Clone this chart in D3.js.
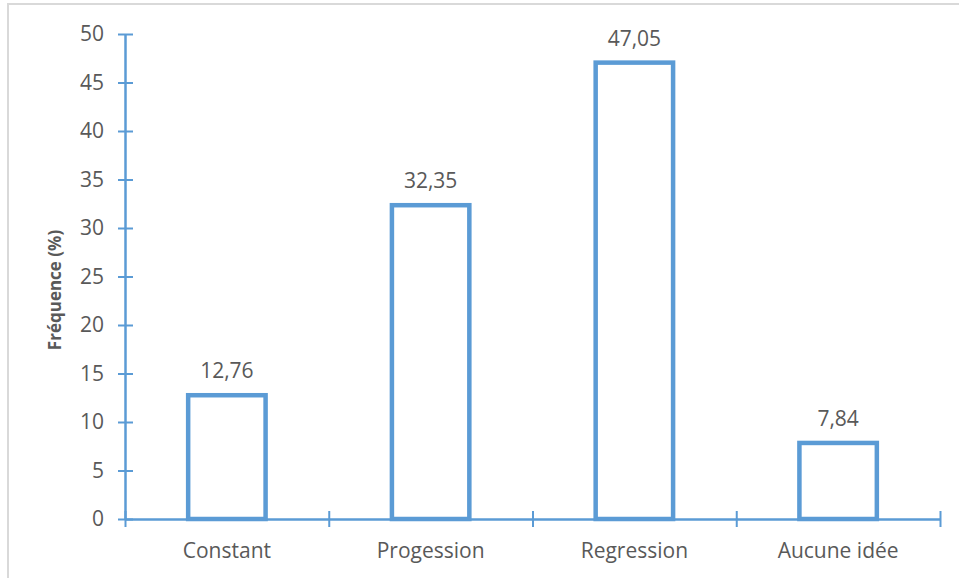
<!DOCTYPE html>
<html>
<head>
<meta charset="utf-8">
<script src="https://cdn.jsdelivr.net/npm/d3@7/dist/d3.min.js"></script>
<style>
  body { margin: 0; background: #fff; }
  svg { display: block; font-family: "Open Sans", sans-serif; }
  .tickText { fill: #595959; font-size: 21px; }
  .valueText { fill: #595959; font-size: 21px; }
  .axisTitle { fill: #595959; font-size: 17px; font-weight: bold; }
</style>
</head>
<body>
<svg id="chart" width="959" height="578"></svg>
<script>
var categories = ["Constant", "Progession", "Regression", "Aucune idée"]
var frequencies = [12.76, 32.35, 47.05, 7.84]
var valueLabels = ["12,76", "32,35", "47,05", "7,84"]
var yTicks = [0, 5, 10, 15, 20, 25, 30, 35, 40, 45, 50]

var blue = "#5b9bd5"
var svg = d3.select("#chart")

// light frame, cut on the right and bottom like the screenshot
svg.append("rect")
  .attr("x", 8).attr("y", 4)
  .attr("width", 1000).attr("height", 700)
  .attr("fill", "none")
  .attr("stroke", "#d9d9d9")
  .attr("stroke-width", 2)

var plotLeft = 125, plotRight = 940, plotTop = 34, plotBottom = 519

var y = d3.scaleLinear().domain([0, 50]).range([plotBottom, plotTop])
var x = d3.scaleBand().domain(categories).range([plotLeft, plotRight]).padding(0)
var xEdges = d3.scaleLinear().domain([0, categories.length]).range([plotLeft, plotRight])

// y axis
var yAxis = svg.append("g")
  .attr("transform", "translate(" + plotLeft + ",0)")
  .call(d3.axisLeft(y).tickValues(yTicks).tickSize(7).tickSizeOuter(0).tickPadding(14))
yAxis.select(".domain").attr("stroke", blue).attr("stroke-width", 2.5)
yAxis.selectAll(".tick line").attr("stroke", blue).attr("stroke-width", 2).attr("x1", 8)
yAxis.selectAll(".tick text")
  .attr("class", "tickText")
  .attr("fill", null)
yAxis.attr("font-family", null).attr("font-size", null)

// x axis (ticks on category boundaries)
var xAxis = svg.append("g")
  .attr("transform", "translate(0," + plotBottom + ")")
  .call(d3.axisBottom(xEdges).tickValues(d3.range(categories.length + 1)).tickSize(8).tickSizeOuter(0).tickFormat(""))
xAxis.select(".domain").attr("stroke", blue).attr("stroke-width", 2.5)
xAxis.selectAll(".tick line").attr("stroke", blue).attr("stroke-width", 2).attr("y1", -8)

svg.append("g").selectAll("text")
  .data(categories)
  .enter().append("text")
  .attr("class", "tickText")
  .attr("x", function (d) { return x(d) + x.bandwidth() / 2 })
  .attr("y", 558)
  .attr("text-anchor", "middle")
  .text(function (d) { return d })

// bars
var barWidth = x.bandwidth() * 0.38
svg.append("g").selectAll("rect")
  .data(frequencies)
  .enter().append("rect")
  .attr("x", function (d, i) { return x(categories[i]) + (x.bandwidth() - barWidth) / 2 })
  .attr("y", function (d) { return y(d) })
  .attr("width", barWidth)
  .attr("height", function (d) { return plotBottom - y(d) })
  .attr("fill", "#fff")
  .attr("stroke", blue)
  .attr("stroke-width", 4.5)

// value labels
svg.append("g").selectAll("text")
  .data(frequencies)
  .enter().append("text")
  .attr("class", "valueText")
  .attr("x", function (d, i) { return x(categories[i]) + x.bandwidth() / 2 })
  .attr("y", function (d) { return y(d) - 17 })
  .attr("text-anchor", "middle")
  .text(function (d, i) { return valueLabels[i] })

// y title
svg.append("text")
  .attr("class", "axisTitle")
  .attr("transform", "translate(61,290) rotate(-90)")
  .attr("text-anchor", "middle")
  .text("Fréquence (%)")
</script>
</body>
</html>
